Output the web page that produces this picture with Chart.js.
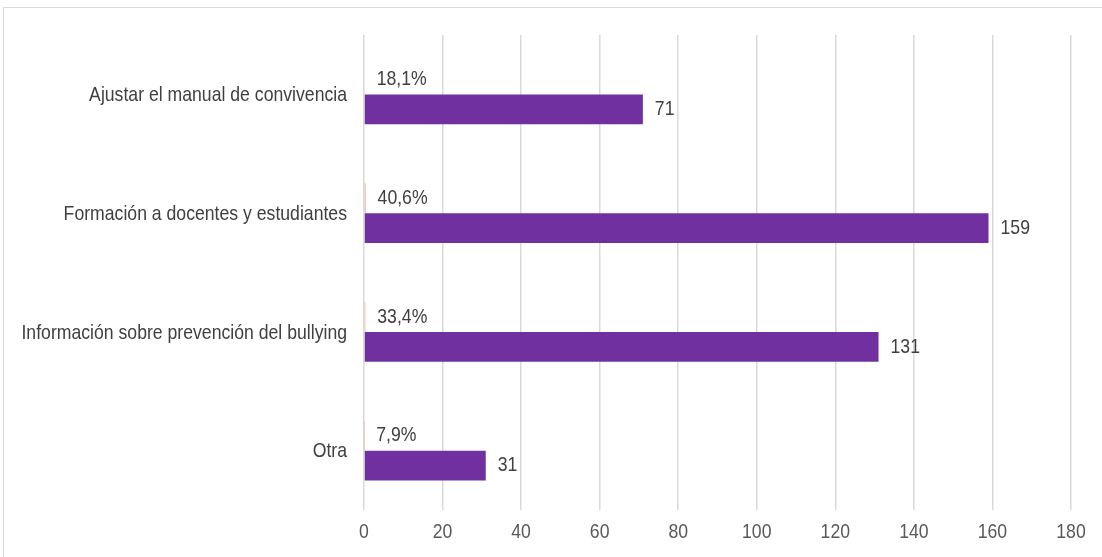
<!DOCTYPE html>
<html>
<head>
<meta charset="utf-8">
<script src="https://cdn.jsdelivr.net/npm/chart.js@4"></script>
<style>
  html, body { margin: 0; padding: 0; background: #fff; }
  #wrap { position: relative; width: 1102px; height: 557px; overflow: hidden; }
  #frame { position: absolute; left: 3px; top: 7px; width: 1110px; height: 570px; border: 1px solid #d9d9d9; box-sizing: border-box; }
  canvas { position: absolute; left: 0; top: 0; }
</style>
</head>
<body>
<div id="wrap">
  <div id="frame"></div>
  <canvas id="chart" width="1102" height="557"></canvas>
</div>
<script>
// datos del gráfico
var categories = ['Ajustar el manual de convivencia', 'Formación a docentes y estudiantes', 'Información sobre prevención del bullying', 'Otra'];
var shares = [0.181, 0.406, 0.334, 0.079];
var counts = [71, 159, 131, 31];
var xTicks = [0, 20, 40, 60, 80, 100, 120, 140, 160, 180];

var fontFamily = '"Liberation Sans", Arial, sans-serif';
var fontSize = 21;
var squeeze = 0.84; // la fuente original es estrecha

function narrowText(ctx, txt, x, y, align, color) {
    ctx.save();
    ctx.translate(x, y);
    ctx.scale(squeeze, 1);
    ctx.font = fontSize + 'px ' + fontFamily;
    ctx.fillStyle = color;
    ctx.textAlign = align;
    ctx.textBaseline = 'middle';
    ctx.fillText(txt, 0, 0);
    ctx.restore();
}

// etiquetas de ejes y de valores, dibujadas estrechas
var narrowLabels = {
    id: 'narrowLabels',
    afterDatasetsDraw: function(chart) {
        var ctx = chart.ctx;
        var xs = chart.scales.x, ys = chart.scales.y;
        chart.data.labels.forEach(function(lbl, i) {
            narrowText(ctx, lbl, ys.right - 17, ys.getPixelForTick(i) + 1, 'right', '#404040');
        });
        xs.ticks.forEach(function(t) {
            narrowText(ctx, String(t.value), xs.getPixelForValue(t.value), xs.top + 22, 'center', '#595959');
        });
        chart.data.datasets.forEach(function(ds, i) {
            chart.getDatasetMeta(i).data.forEach(function(bar, j) {
                var v = ds.data[j];
                var txt = i === 0 ? (v * 100).toFixed(1).replace('.', ',') + '%' : String(v);
                narrowText(ctx, txt, bar.x + 12, bar.y, 'left', '#404040');
            });
        });
    }
};

new Chart(document.getElementById('chart'), {
    type: 'bar',
    data: {
        labels: categories,
        datasets: [
            { label: 'Porcentaje', data: shares, backgroundColor: '#f4a09c', barPercentage: 1, categoryPercentage: 0.505 },
            { label: 'Total', data: counts, backgroundColor: '#7030a0', barPercentage: 1, categoryPercentage: 0.505 }
        ]
    },
    options: {
        indexAxis: 'y',
        responsive: false,
        animation: false,
        layout: { padding: { left: 0, top: 35, right: 31, bottom: 0 } },
        plugins: { legend: { display: false }, tooltip: { enabled: false } },
        scales: {
            x: {
                min: 0,
                max: 180,
                afterFit: function(scale) { scale.height = 47; },
                afterBuildTicks: function(scale) { scale.ticks = xTicks.map(function(v) { return { value: v }; }); },
                grid: { color: '#d9d9d9', lineWidth: 1.5, drawTicks: false },
                border: { display: false },
                ticks: { color: 'rgba(0,0,0,0)', font: { family: fontFamily, size: 12 } }
            },
            y: {
                afterFit: function(scale) { scale.width = 364; },
                grid: { display: false, drawTicks: false },
                border: { display: false },
                ticks: { color: 'rgba(0,0,0,0)', font: { family: fontFamily, size: 12 } }
            }
        }
    },
    plugins: [narrowLabels]
});
</script>
</body>
</html>
